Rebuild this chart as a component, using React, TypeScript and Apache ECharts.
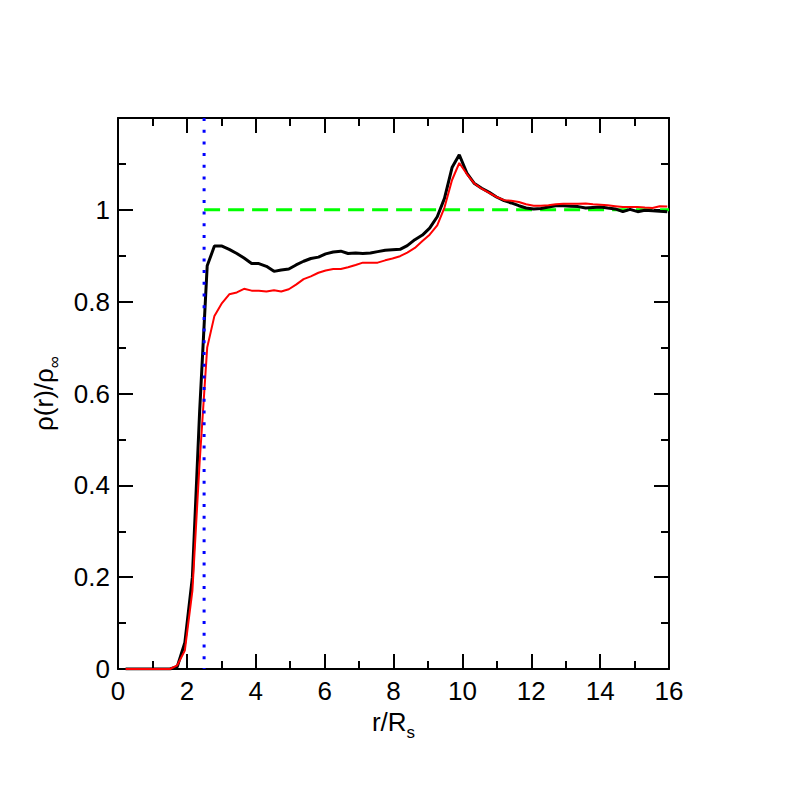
import React, { useEffect, useRef } from "react";
import * as echarts from "echarts";

// r / R_s sample positions
const rValues = [
  0.22, 0.43, 0.65, 0.86, 1.08, 1.29, 1.51, 1.72, 1.94, 2.16,
  2.37, 2.59, 2.8, 3.02, 3.23, 3.45, 3.66, 3.88, 4.09, 4.31,
  4.53, 4.74, 4.96, 5.17, 5.39, 5.6, 5.82, 6.03, 6.25, 6.47,
  6.68, 6.9, 7.11, 7.33, 7.54, 7.76, 7.97, 8.19, 8.4, 8.62,
  8.84, 9.05, 9.27, 9.48, 9.7, 9.91, 10.13, 10.34, 10.56, 10.78,
  10.99, 11.21, 11.42, 11.64, 11.85, 12.07, 12.28, 12.5, 12.71, 12.93,
  13.15, 13.36, 13.58, 13.79, 14.01, 14.22, 14.44, 14.66, 14.87, 15.09,
  15.3, 15.52, 15.73, 15.95,
];

const blackValues = [
  0, 0, 0, 0, 0, 0, 0, 0.005, 0.057, 0.2,
  0.56, 0.878, 0.921, 0.921, 0.914, 0.905, 0.895, 0.883, 0.883, 0.877,
  0.866, 0.869, 0.871, 0.88, 0.888, 0.894, 0.897, 0.904, 0.908, 0.91,
  0.905, 0.906, 0.905, 0.906, 0.909, 0.912, 0.913, 0.914, 0.922, 0.935,
  0.945, 0.96, 0.985, 1.025, 1.092, 1.12, 1.08, 1.058, 1.047, 1.038,
  1.028, 1.02, 1.015, 1.009, 1.004, 1.002, 1.003, 1.006, 1.009, 1.009,
  1.008, 1.007, 1.004, 1.005, 1.006, 1.004, 1.002, 0.996, 1.001, 0.996,
  0.999, 0.998, 0.997, 0.996,
];

const redValues = [
  0, 0, 0, 0, 0, 0, 0, 0.008, 0.04, 0.17,
  0.45, 0.7, 0.769, 0.797, 0.816, 0.82, 0.828, 0.824, 0.824, 0.822,
  0.825, 0.822, 0.827, 0.837, 0.849, 0.855, 0.863, 0.868, 0.871, 0.871,
  0.875, 0.88, 0.885, 0.885, 0.885, 0.89, 0.894, 0.899, 0.907, 0.917,
  0.932, 0.946, 0.966, 1.005, 1.065, 1.102, 1.078, 1.058, 1.046, 1.037,
  1.028, 1.021, 1.02, 1.017, 1.012, 1.009, 1.009, 1.01, 1.012, 1.013,
  1.013, 1.013, 1.014, 1.012, 1.011, 1.01, 1.008, 1.006, 1.006, 1.006,
  1.005, 1.004, 1.008, 1.007,
];

// reference lines
const contactR = 2.5;
const bulkLevel = 1.0;

const xMin = 0;
const xMax = 16;
const xStep = 2;
const yMin = 0;
const yMax = 1.2;
const yStep = 0.2;

const FONT = "Liberation Sans, Arial, Helvetica, sans-serif";

export default function App() {
  const ref = useRef<HTMLDivElement>(null);

  useEffect(() => {
    if (!ref.current) return;
    const chart = echarts.init(ref.current, null, { renderer: "svg" });

    const tickCommon = {
      axisLine: { show: true, onZero: false, lineStyle: { color: "#000", width: 2 } },
      axisTick: { show: true, inside: true, length: 15, lineStyle: { color: "#000", width: 2 } },
      minorTick: { show: true, splitNumber: 2, length: 8, lineStyle: { color: "#000", width: 2 } },
      splitLine: { show: false },
      minorSplitLine: { show: false },
    };

    const nameRich = {
      n: { fontSize: 26, fontFamily: FONT, color: "#000", lineHeight: 32, verticalAlign: "top" },
      s: { fontSize: 17, fontFamily: FONT, color: "#000", lineHeight: 19, verticalAlign: "bottom" },
    };

    const option: any = {
      animation: false,
      backgroundColor: "#fff",
      grid: { left: 118, right: 119, top: 118, bottom: 119, containLabel: false },
      xAxis: [
        {
          type: "value",
          min: xMin,
          max: xMax,
          interval: xStep,
          position: "bottom",
          ...tickCommon,
          axisLabel: {
            show: true,
            margin: 9,
            fontSize: 26,
            fontFamily: FONT,
            color: "#000",
            showMinLabel: true,
            showMaxLabel: true,
          },
          name: "{n|r/R}{s|s}",
          nameLocation: "middle",
          nameGap: 36,
          nameTextStyle: { rich: nameRich },
        },
        {
          type: "value",
          min: xMin,
          max: xMax,
          interval: xStep,
          position: "top",
          ...tickCommon,
          axisLabel: { show: false },
        },
      ],
      yAxis: [
        {
          type: "value",
          min: yMin,
          max: yMax,
          interval: yStep,
          position: "left",
          ...tickCommon,
          axisLabel: {
            show: true,
            margin: 8,
            fontSize: 26,
            fontFamily: FONT,
            color: "#000",
            formatter: (v: number) => (v > 1.1 ? "" : String(parseFloat(v.toFixed(1)))),
          },
          name: "{n|ρ(r)/ρ}{s|∞}",
          nameLocation: "middle",
          nameRotate: 90,
          nameGap: 52,
          nameTextStyle: { rich: nameRich },
        },
        {
          type: "value",
          min: yMin,
          max: yMax,
          interval: yStep,
          position: "right",
          ...tickCommon,
          axisLabel: { show: false },
        },
      ],
      series: [
        {
          type: "line",
          name: "bulk",
          data: [
            [contactR, bulkLevel],
            [xMax, bulkLevel],
          ],
          symbol: "none",
          lineStyle: { color: "#00ff00", width: 3, type: [16, 8], cap: "butt" },
          z: 2,
        },
        {
          type: "line",
          name: "black",
          data: rValues.map((r, i) => [r, blackValues[i]]),
          symbol: "none",
          lineStyle: { color: "#000", width: 3 },
          z: 3,
        },
        {
          type: "line",
          name: "red",
          data: rValues.map((r, i) => [r, redValues[i]]),
          symbol: "none",
          lineStyle: { color: "#ff0000", width: 2 },
          z: 4,
        },
        {
          type: "line",
          name: "contact",
          data: [
            [contactR, yMax],
            [contactR, yMin],
          ],
          symbol: "none",
          lineStyle: { color: "#0000ff", width: 3, type: [3, 8.7], cap: "butt" },
          z: 5,
        },
      ],
    };

    chart.setOption(option);
    return () => chart.dispose();
  }, []);

  return (
    <div
      ref={ref}
      style={{ position: "fixed", left: 0, top: 0, width: 788, height: 788, background: "#fff" }}
    />
  );
}
